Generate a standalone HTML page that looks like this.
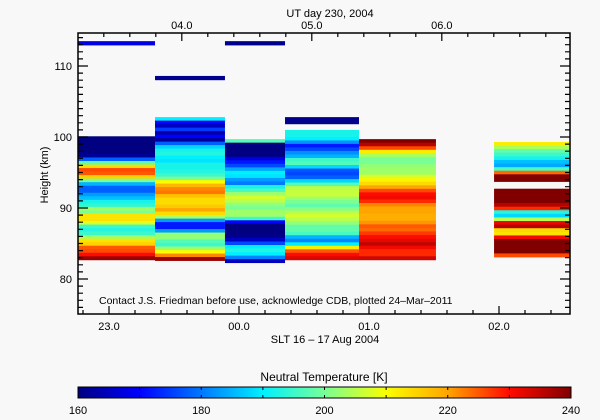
<!DOCTYPE html>
<html><head><meta charset="utf-8"><style>
html,body{margin:0;padding:0;background:#f8f8f8;}
svg{display:block;font-family:"Liberation Sans",sans-serif;}
</style></head><body>
<svg id="chart" width="600" height="420" viewBox="0 0 600 420">
<rect x="0" y="0" width="600" height="420" fill="#f8f8f8"/>
<g id="cells"></g>
<g id="axes"></g>
<defs><linearGradient id="cbg" x1="0" x2="1" y1="0" y2="0"></linearGradient></defs>
<text x="330" y="17" font-size="11" text-anchor="middle" fill="#000">UT day 230, 2004</text>
<text x="325" y="343" font-size="11" text-anchor="middle" fill="#000">SLT 16 – 17 Aug 2004</text>
<text x="48" y="175" font-size="11" text-anchor="middle" fill="#000" transform="rotate(-90 48 175)">Height (km)</text>
<text x="99" y="304" font-size="10.5" fill="#000">Contact J.S. Friedman before use, acknowledge CDB, plotted 24–Mar–2011</text>
<text x="324" y="381" font-size="12" text-anchor="middle" fill="#000">Neutral Temperature [K]</text>
<g id="cbar"></g>
</svg>
<script>
// ---- data ----
const colStart = [22.762, 23.354, 23.892, 24.354, 24.923, 25.962];
const colEnd   = [23.354, 23.892, 24.354, 24.923, 25.515, 26.546];
const colTop   = [100.1, 102.8, 99.7, 101.0, 99.7, 99.3];
const colBottom= [82.7, 82.6, 82.3, 82.7, 82.7, 83.1];
const col0 = [160,160,160,160,160,162,178,198,214,226,225,215,200,185,178,178,183,186,192,194,203,200,213,213,208,195,193,195,203,213,215,225,226,230,238];
const col1 = [190,170,165,175,163,170,162,178,188,192,193,190,189,192,192,193,195,200,210,218,222,223,217,214,214,216,220,214,204,183,172,172,183,202,202,197,195,203,210,222,238];
const col2 = [197,160,160,160,160,167,172,176,184,190,189,183,180,192,196,203,207,205,202,200,203,203,195,170,160,160,160,161,165,176,190,193,190,181,165];
const col3 = [192,192,190,182,172,176,182,185,195,197,188,177,176,178,188,197,205,206,206,203,200,198,201,205,207,205,202,198,198,196,185,181,190,212,225,230,233];
const col4 = [240,236,226,212,204,200,200,202,203,203,207,211,214,220,226,230,231,228,222,220,220,219,219,221,225,224,227,230,232,235,231,228,228,234];
const col5 = [212,204,198,195,192,186,184,196,224,240,240,null,null,240,240,240,240,236,228,193,188,205,232,236,214,213,231,240,240,240,240,226];
const columns = [col0, col1, col2, col3, col4, col5];
// isolated high-altitude bars
const barCol    = [0, 1, 2, 3];
const barTop    = [113.5, 108.6, 113.5, 102.8];
const barBottom = [112.9, 108.0, 112.9, 101.8];
const barTemp   = [168, 161, 161, 161];
// axis labels
const sltTicks = [23, 24, 25, 26];
const sltLabels = ["23.0", "00.0", "01.0", "02.0"];
const utTicks = [4, 5, 6];
const utLabels = ["04.0", "05.0", "06.0"];
const hTicks = [80, 90, 100, 110];
const cbTicks = [160, 180, 200, 220, 240];
// ---- scales ----
const X0 = 78, X1 = 570, Y0 = 33, Y1 = 314;
const utOffset = 4.44 - 24; // UT = SLT + utOffset
function xs(t){ return 109 + (t - 23) * 130; }
function ys(h){ return 208 - (h - 90) * 7.1; }
const tMin = 22.762, tMax = 26.546;
const stops = [[160,[0,0,128]],[170,[0,0,255]],[180,[0,120,255]],[190,[0,240,255]],[200,[120,255,150]],[210,[250,255,0]],[220,[255,165,0]],[230,[255,10,0]],[240,[128,0,0]]];
function color(v){
  v = Math.max(160, Math.min(240, v));
  for (let i = 0; i < stops.length - 1; i++){
    const [a, ca] = stops[i], [b, cb] = stops[i+1];
    if (v <= b){ const f = (v - a) / (b - a);
      return "rgb(" + ca.map((c, k) => Math.round(c + (cb[k] - c) * f)).join(",") + ")"; }
  }
  return "rgb(128,0,0)";
}
const NS = "http://www.w3.org/2000/svg";
function mk(tag, attrs, parent){ const e = document.createElementNS(NS, tag); for (const k in attrs) e.setAttribute(k, attrs[k]); parent.appendChild(e); return e; }
const cells = document.getElementById("cells");
columns.forEach((vals, c) => {
  const n = vals.length, dh = (colTop[c] - colBottom[c]) / n;
  const xa = xs(colStart[c]), xb = xs(colEnd[c]);
  vals.forEach((v, i) => {
    if (v === null) return;
    const hTop = colTop[c] - i * dh;
    const r = mk("rect", {x: xa, y: ys(hTop), width: xb - xa, height: ys(hTop - dh) - ys(hTop) + 0.4, fill: color(v)}, cells);
    
    
  });
});
barCol.forEach((c, i) => {
  const xa = xs(colStart[c]), xb = xs(colEnd[c]);
  const r = mk("rect", {x: xa, y: ys(barTop[i]), width: xb - xa, height: ys(barBottom[i]) - ys(barTop[i]), fill: color(barTemp[i])}, cells);
  
  
});
// axes
const ax = document.getElementById("axes");
const frame = mk("path", {d: `M${X0},${Y0}V${Y1}H${X1}V${Y0}Z`, fill: "none", stroke: "#000", "stroke-width": 1.5}, ax);


let d = "";
for (let h = 76; h <= 114; h++){
  const y = ys(h), L = (h % 10 === 0) ? 10 : 5;
  d += `M${X0},${y}h${L}M${X1},${y}h${-L}`;
}
for (let k = Math.ceil(tMin * 5); k <= tMax * 5; k++){
  const t = k / 5, x = xs(t), L = (k % 5 === 0) ? 8 : 4;
  d += `M${x},${Y1}v${-L}`;
}
for (let k = Math.ceil((tMin + utOffset) * 5); k <= (tMax + utOffset) * 5; k++){
  const x = xs(k / 5 - utOffset), L = (k % 5 === 0) ? 8 : 4;
  d += `M${x},${Y0}v${L}`;
}
const tk = mk("path", {d: d, stroke: "#000", "stroke-width": 1.2, fill: "none"}, ax);


hTicks.forEach(h => {
  const t = mk("text", {x: 72, y: ys(h) + 4, "font-size": 11, "text-anchor": "end"}, ax);
  t.textContent = String(h);
  
  
});
sltTicks.forEach((s, i) => {
  const t = mk("text", {x: xs(s), y: 330, "font-size": 11, "text-anchor": "middle"}, ax);
  t.textContent = sltLabels[i];
  
  
});
utTicks.forEach((u, i) => {
  const t = mk("text", {x: xs(u - utOffset), y: 29, "font-size": 11, "text-anchor": "middle"}, ax);
  t.textContent = utLabels[i];
  
  
});
// colorbar
const g = document.getElementById("cbg");
for (let v = 160; v <= 240; v += 5){
  mk("stop", {offset: ((v - 160) / 80 * 100) + "%", "stop-color": color(v)}, g);
}
const cb = document.getElementById("cbar");
const CB0 = 78, CB1 = 571;
function cx(v){ return CB0 + (v - 160) / 80 * (CB1 - CB0); }
const cr = mk("rect", {x: CB0, y: 387, width: CB1 - CB0, height: 11, fill: "url(#cbg)", stroke: "#000", "stroke-width": 1}, cb);


let cd = "";
for (let v = 170; v < 240; v += 10){ cd += `M${cx(v)},387v3M${cx(v)},398v-3`; }
const ct = mk("path", {d: cd, stroke: "#000", "stroke-width": 1}, cb);


cbTicks.forEach(v => {
  const t = mk("text", {x: cx(v), y: 414, "font-size": 11, "text-anchor": "middle"}, cb);
  t.textContent = String(v);
  
  
});
</script>
</body></html>
